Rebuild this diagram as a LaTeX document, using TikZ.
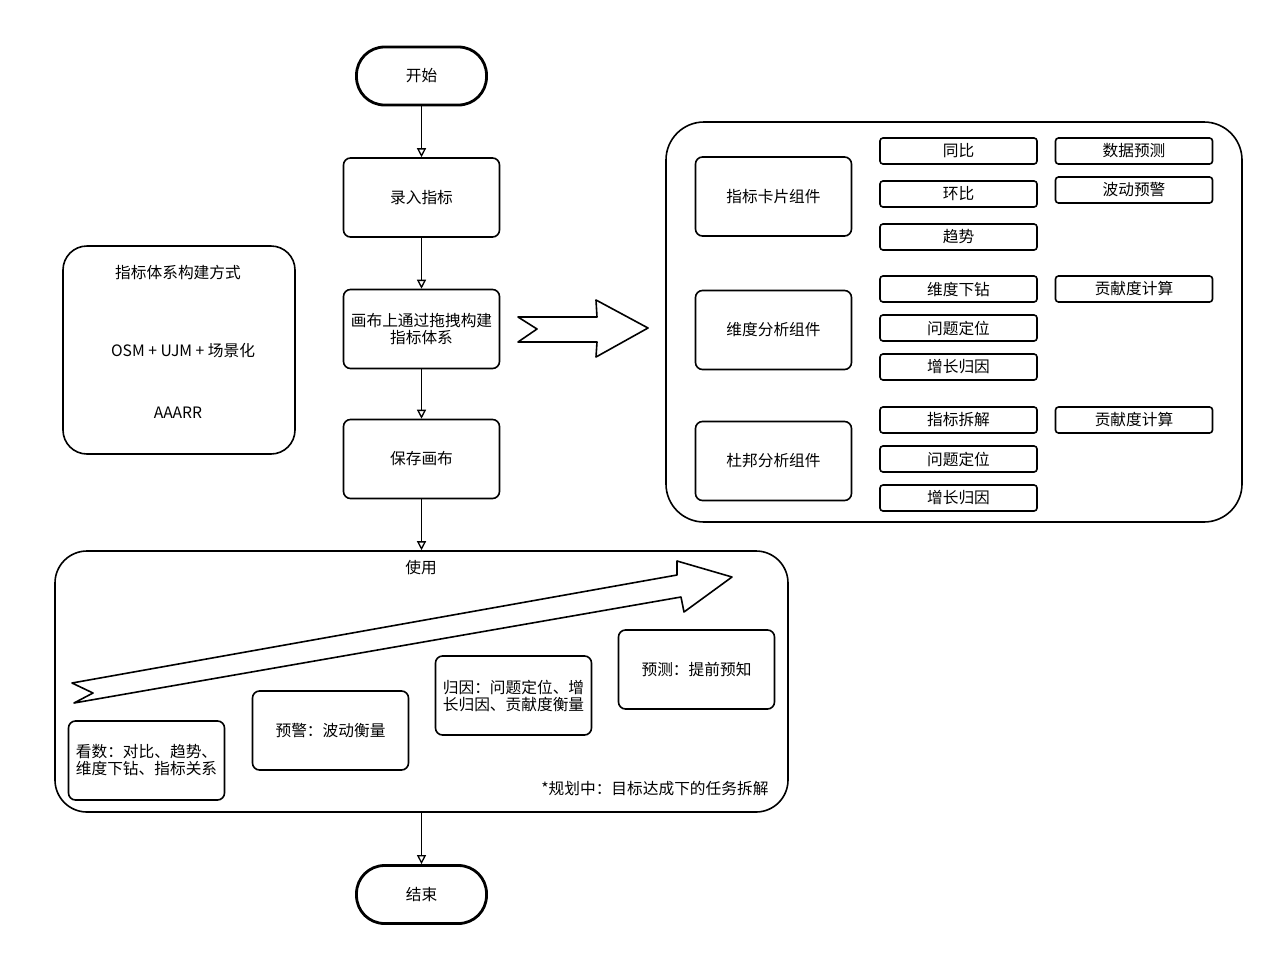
\documentclass[tikz,border=0pt]{standalone}
\usepackage{fontspec}
\setmainfont{Noto Sans CJK SC}
\usetikzlibrary{arrows.meta, positioning}

\begin{document}
\begin{tikzpicture}[
    x=1pt, y=-1pt,
    font=\fontsize{15.7}{20}\selectfont,
    term/.style={
        draw, line width=2.8pt, rounded corners=28pt,
        minimum width=130pt, minimum height=58pt
    },
    proc/.style={
        draw, line width=1.6pt, rounded corners=7pt,
        minimum width=156pt, minimum height=79pt, align=center
    },
    stage/.style={proc, align=left, inner sep=6pt},
    item/.style={
        draw, line width=1.6pt, rounded corners=3pt,
        minimum width=157pt, minimum height=26pt, inner sep=0pt
    },
    panel/.style={draw, line width=1.6pt},
    flow/.style={-{Triangle[open, length=9pt, width=9pt]}, line width=1.3pt},
    fat/.style={draw, line width=1.6pt, fill=white, line join=round}
]
\useasboundingbox (0,0) rectangle (1280,967);

% main flow
\node[term] (start) at (421.5,76) {开始};
\node[proc] (input) at (421.5,197.5) {录入指标};
\node[proc] (canvas) at (421.5,329) {画布上通过拖拽构建\\[-3pt]指标体系};
\node[proc] (save) at (421.5,459) {保存画布};
\node[panel, rounded corners=32pt, minimum width=733pt, minimum height=261pt] (use) at (421.5,681.5) {};
\node[term] (finish) at (421.5,894.5) {结束};

\draw[flow] (start.south) -- (input.north);
\draw[flow] (input.south) -- (canvas.north);
\draw[flow] (canvas.south) -- (save.north);
\draw[flow] (save.south) -- (use.north);
\draw[flow] (use.south) -- (finish.north);

% left panel
\node[panel, rounded corners=24pt, minimum width=232pt, minimum height=208pt] (ways) at (179,350) {};
\node at (178,272) {指标体系构建方式};
\node at (183,351) {OSM + UJM + 场景化};
\node at (178,413) {AAARR};

% block arrow to components
\draw[fat] (518,317) -- (597,317) -- (596,300) -- (648,328) -- (596,357)
    -- (597,342) -- (518,342) -- (537,329) -- cycle;

% component panel
\node[panel, rounded corners=38pt, minimum width=576pt, minimum height=400pt] (comps) at (954,322) {};
\node[proc] (card) at (773.5,196.5) {指标卡片组件};
\node[proc] (dim) at (773.5,330) {维度分析组件};
\node[proc] (dupont) at (773.5,461) {杜邦分析组件};

\node[item] (yoy) at (958.5,151) {同比};
\node[item] (mom) at (958.5,194) {环比};
\node[item] (trend) at (958.5,237) {趋势};
\node[item] (drill) at (958.5,289) {维度下钻};
\node[item] (locA) at (958.5,328) {问题定位};
\node[item] (growA) at (958.5,367) {增长归因};
\node[item] (split) at (958.5,420) {指标拆解};
\node[item] (locB) at (958.5,459) {问题定位};
\node[item] (growB) at (958.5,498) {增长归因};

\node[item] (fcst) at (1134,151) {数据预测};
\node[item] (alert) at (1134,190) {波动预警};
\node[item] (contribA) at (1134,289) {贡献度计算};
\node[item] (contribB) at (1134,420) {贡献度计算};

% usage stages
\node at (421,568) {使用};
\draw[fat] (72,683) -- (677,575) -- (677,561) -- (732,577) -- (684,612)
    -- (681,597) -- (74,703) -- (93,693) -- cycle;
\node[stage] (look) at (146.5,760.5) {看数：对比、趋势、\\[-3pt]维度下钻、指标关系};
\node[proc] (warn) at (330.5,730.5) {预警：波动衡量};
\node[stage] (cause) at (513.5,695.5) {归因：问题定位、增\\[-3pt]长归因、贡献度衡量};
\node[proc] (pred) at (696.5,669.5) {预测：提前预知};
\node[anchor=east] (plan) at (772,789) {*规划中：目标达成下的任务拆解};

\end{tikzpicture}
\end{document}
